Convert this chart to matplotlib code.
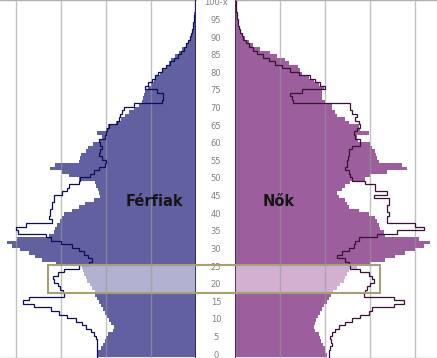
import numpy as np
import matplotlib
matplotlib.use('Agg')
import matplotlib.pyplot as plt
from matplotlib.patches import Rectangle
from matplotlib.transforms import blended_transform_factory

# age 0..100, values (grid step = 45 units)
ages = np.arange(0, 101)

male_fill = [98.5, 97.5, 94.5, 92.5, 90.5, 89.5, 87.5, 82.5, 81.5, 84.5,
             86.5, 88.5, 90.5, 92.5, 94.5, 96.5, 98.5, 100.5, 100.5, 103.5,
             105.5, 108.5, 109.5, 111.5, 112.5, 113.5, 140, 154, 160.5, 167,
             175.5, 184, 189, 179, 147, 142, 140.5, 139, 135.5, 134,
             132, 124, 117, 110.5, 102, 95.5, 96.5, 98, 99.5, 100.5,
             117, 127, 134, 146, 140.5, 117, 115.5, 115, 109.5, 108,
             103, 97, 94, 99, 89.5, 88, 79.5, 75, 71, 67,
             62, 57, 54, 53, 52, 50.5, 48, 45, 42, 40,
             36, 34, 30, 27, 25, 21, 17, 14, 10, 7,
             4.5, 3.5, 3, 2.5, 2, 2, 1.5, 1.5, 1, 1, 0.5]

male_line = [99, 99, 99, 99, 99, 99.5, 102, 105, 110, 114,
             120, 129, 137, 145, 162, 172.5, 167, 132, 133, 135.5,
             138, 142, 143, 138, 132, 117, 107, 104, 108, 112,
             117, 124, 135, 145, 150, 178, 180, 170, 144, 147,
             145.5, 145.5, 144, 144, 141.5, 142, 134, 129, 127, 117,
             115.5, 105.5, 102, 97, 90.5, 89.5, 94, 97, 95.5, 94,
             95.5, 97, 90.5, 89.5, 89, 87, 79, 77, 76, 74,
             71.5, 62, 34, 33, 33, 39, 51, 48, 44, 41,
             38, 34, 30, 26, 22, 18, 15, 12, 10, 8,
             6, 5, 4, 3, 2.5, 2, 1.5, 1, 0.8, 0.5, 0.3]

female_fill = [92, 90, 90, 88, 86, 85, 84, 80, 79, 80,
               81, 83, 85, 87, 89, 92, 94, 96, 98, 102,
               105, 109, 110, 112, 114, 122, 135, 150, 160, 170,
               180, 189, 195, 184, 150, 149, 145, 144, 142, 140,
               134, 124, 114, 112, 110, 104, 102, 107, 110, 115,
               130, 135, 152, 172, 167, 144, 142, 141, 140, 137,
               135, 123, 122, 134, 125, 124, 114, 110, 102, 100,
               97, 97, 90, 87, 87, 87, 89, 84, 79, 74,
               67, 65, 63, 54, 50, 42, 35, 25, 18, 14,
               10, 8, 6, 5, 4, 3, 2.5, 2, 1.5, 1, 1]

female_line = [94, 94, 95, 97, 96, 95, 97, 100, 104, 110,
               117, 125, 134, 137, 159, 169, 159, 129, 130, 132,
               135, 139, 137, 134, 125, 115, 114, 110, 102, 107,
               114, 119, 120, 124, 142, 162, 189, 180, 152, 152,
               154, 152, 152, 154, 154, 139, 152, 140, 140, 130,
               117, 115, 114, 110, 112, 112, 113, 114, 114, 117,
               125, 125, 120, 119, 122, 125, 124, 120, 122, 117,
               115, 115, 58, 57, 55, 67, 90, 85, 80, 75,
               64, 55, 47, 40, 34, 28, 22, 18, 14, 11,
               8, 7, 5, 4, 3, 2.5, 2, 1.5, 1, 0.8, 0.5]

tick_ages = list(range(0, 100, 5)) + [100]
tick_labels = [str(a) for a in range(0, 100, 5)] + ['100-x']

hl_lo, hl_hi = 18, 25
grid_step = 45

W, H = 437, 358
fig = plt.figure(figsize=(W / 100, H / 100), dpi=100)
fig.patch.set_facecolor('white')

ylo, yhi = -0.85, 100.85
ax_m = fig.add_axes([0, 0, 195.5 / W, 1])
ax_f = fig.add_axes([235 / W, 0, (W - 235) / W, 1])

hl = (ages >= hl_lo) & (ages <= hl_hi)


def panel(ax, fill, line, dark, light, edge, zero_col, xmax, flip):
    cols = np.where(hl, light, dark)
    ax.barh(ages, fill, height=1.0, color=cols, linewidth=0, zorder=1)
    xs = np.repeat(line, 2)
    ys = np.column_stack([ages - 0.5, ages + 0.5]).ravel()
    ax.plot(xs, ys, color=edge, lw=0.9, zorder=3, solid_joinstyle='miter')
    for g in np.arange(grid_step, xmax, grid_step):
        ax.axvline(g, color='#999999', alpha=0.6, lw=1.0, zorder=2)
    ax.axvline(0, color=zero_col, lw=1.2, zorder=4)
    ax.set_ylim(ylo, yhi)
    if flip:
        ax.set_xlim(xmax, 0)
    else:
        ax.set_xlim(0, xmax)
    ax.set_xticks([])
    ax.set_yticks([])
    for s in ['left', 'right']:
        ax.spines[s].set_visible(False)
    for s in ['top', 'bottom']:
        ax.spines[s].set_color('#b0b0b0')
        ax.spines[s].set_linewidth(1.0)


panel(ax_m, male_fill, male_line, '#6161a1', '#b1b1d1', '#0c0c5a', '#202060', 195.5, True)
panel(ax_f, female_fill, female_line, '#9d5e9e', '#d2b0d2', '#3a1038', '#4a2048', W - 235, False)

tr = blended_transform_factory(fig.transFigure, ax_m.transData)
for a, lab in zip(tick_ages, tick_labels):
    fig.text(216 / W, a, lab, transform=tr, ha='center', va='center',
             fontsize=6, color='#808080')

fig.text(154 / W, 1 - 205.5 / H, 'Férfiak', ha='center', va='baseline',
         fontsize=10.5, fontweight='bold', color='#151515')
fig.text(279 / W, 1 - 205.5 / H, 'Nők', ha='center', va='baseline',
         fontsize=10.5, fontweight='bold', color='#151515')

box = Rectangle((48 / W, hl_lo - 0.5), (380 - 48) / W, hl_hi - hl_lo + 1,
                transform=tr, fill=False, edgecolor='#a5a175', lw=1.5, zorder=10)
fig.add_artist(box)

fig.savefig('out.png', dpi=100)
